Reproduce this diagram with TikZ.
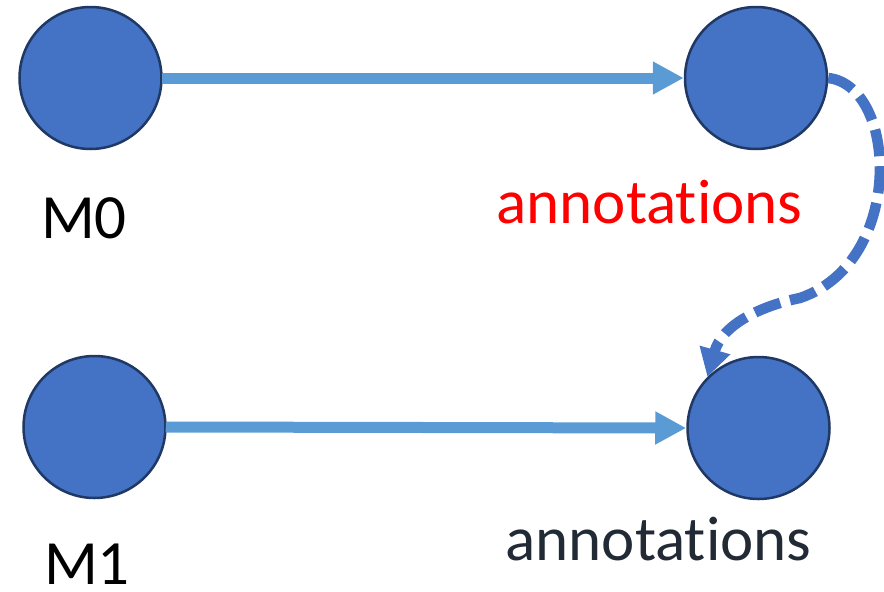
\documentclass[tikz,border=0pt]{standalone}
\usepackage{fontspec}
\setmainfont{Carlito}[Ligatures=NoCommon]
\usetikzlibrary{arrows.meta}
\definecolor{nodefill}{HTML}{4472C4}
\definecolor{nodeedge}{HTML}{1F3864}
\definecolor{lightarrow}{HTML}{5B9BD5}
\definecolor{darktext}{HTML}{222A35}
\tikzset{
  dot/.style={circle, fill=nodefill, draw=nodeedge, line width=2.5pt, minimum size=142pt, inner sep=0pt},
  lbl/.style={inner sep=0pt, anchor=base, font=\fontsize{63}{70}\selectfont},
  solidarrow/.style={draw=lightarrow, line width=11pt, -{Triangle[length=31pt,width=31pt]}, shorten <=-1pt},
  dasharrow/.style={draw=nodefill, line width=10.5pt, dash pattern=on 27pt off 10pt, -{Triangle[length=28pt,width=30pt]}}
}
\begin{document}
\begin{tikzpicture}[x=1pt,y=-1pt]
\useasboundingbox (0,0) rectangle (884,592);
\node[dot] (tl) at (90.5,78) {};
\node[dot] (tr) at (756,78) {};
\node[dot] (bl) at (94.5,427) {};
\node[dot] (br) at (758.5,428) {};
\node[lbl] (m0) at (84,238) {M0};
\node[lbl] (m1) at (87,584) {M1};
\node[lbl, text=red] (a0) at (649.5,223) {annotat\kern0pt ions};
\node[lbl, text=darktext] (a1) at (658.5,560) {annotat\kern0pt ions};
\draw[solidarrow] (tl.east) -- (tr.west);
\draw[solidarrow] (bl.east) -- (br.west);
\draw[dasharrow] (tr.east) .. controls (898,86) and (905,262) .. (800,298) .. controls (760,306) and (722,325) .. (br.135);
\end{tikzpicture}
\end{document}
